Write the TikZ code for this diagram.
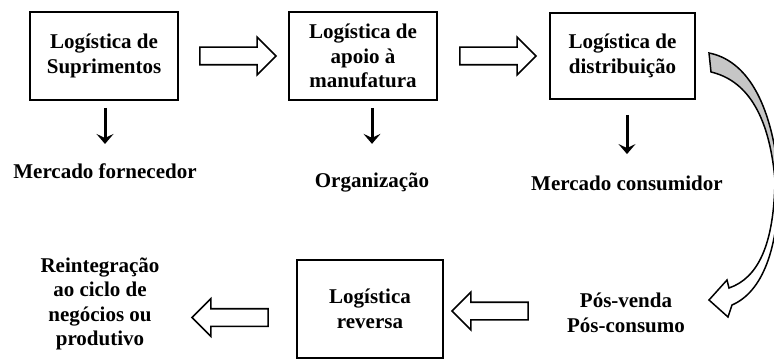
\documentclass[tikz,border=0pt]{standalone}
\usepackage{fontspec}
\setmainfont{Liberation Serif}
\usetikzlibrary{shapes.arrows,arrows.meta,calc}

\begin{document}
\begin{tikzpicture}[x=1pt,y=-1pt,
    every node/.style={font={\fontsize{21}{24.5}\selectfont\bfseries},align=center},
    stage/.style={draw,line width=1.8pt,minimum width=148pt,minimum height=88pt,inner sep=2pt},
    hollow/.style={single arrow,draw,line width=1.6pt,fill=white,minimum height=76pt,
        minimum width=36pt,inner xsep=0pt,inner ysep=8pt,single arrow head extend=10pt},
    down/.style={line width=3pt,-{Stealth[length=10pt,width=17pt,inset=4pt]}}]
\useasboundingbox (0,0) rectangle (774,361);

\node[stage] (supr) at (104,56) {Logística de\\Suprimentos};
\node[stage] (apoio) at (363,56) {Logística de\\apoio à\\manufatura};
\node[stage,minimum width=145pt,minimum height=86pt] (dist) at (622.5,56) {Logística de\\distribuição};
\node[stage,minimum width=146pt,minimum height=98pt] (rev) at (370,309) {Logística\\reversa};

\node (forn) at (105,171) {Mercado fornecedor};
\node (org) at (372,183) {Organização};
\node (cons) at (627,183) {Mercado consumidor};
\node (reint) at (100,304) {Reintegração\\ao ciclo de\\negócios ou\\produtivo};
\node (pos) at (626,313) {Pós-venda\\Pós-consumo};

% hollow arrows
\node[hollow] (a1) at ($(supr.east)!0.5!(apoio.west)$) {};
\node[hollow] (a2) at ($(apoio.east)!0.5!(dist.west)$) {};
\node[hollow,shape border rotate=180] (a3) at (494.5,311) {};
\node[hollow,shape border rotate=180] (a4) at (234.5,317.5) {};

\draw[down,shorten <=7pt,shorten >=16pt] (supr.south -| forn) -- (forn.north);
\draw[down,shorten <=7pt,shorten >=26pt] (apoio.south -| org) -- (org.north);
\draw[down,shorten <=15pt,shorten >=18pt] (dist.south -| cons) -- (cons.north);

% curved arrow to the after-sales
\filldraw[fill=gray!45,line width=1.5pt] (709,53) .. controls (745,60) and (772,100) .. (779,180)
    -- (775,180) .. controls (769,112) and (745,80) .. (711,72) -- cycle;
\filldraw[fill=white,line width=1.5pt] (779,180) .. controls (779,250) and (762,292) .. (732,305)
    -- (728,317) -- (709,300) -- (727,280) -- (729,288) .. controls (758,278) and (774,245) .. (775,180);
\end{tikzpicture}
\end{document}
